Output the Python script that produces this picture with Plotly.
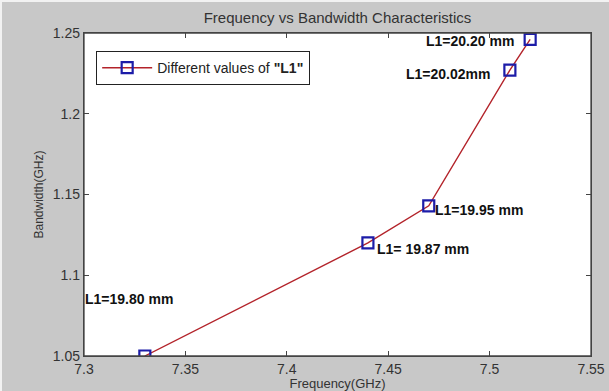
import plotly.graph_objects as go

freq = [7.33, 7.44, 7.47, 7.51, 7.52]
bandwidth = [1.050, 1.120, 1.143, 1.227, 1.246]
labels = ["L1=19.80 mm", "L1= 19.87 mm", "L1=19.95 mm", "L1=20.02mm", "L1=20.20 mm"]
x_ticks = [7.3, 7.35, 7.4, 7.45, 7.5, 7.55]
y_ticks = [1.05, 1.1, 1.15, 1.2, 1.25]

# label placement (style): anchor, xshift, yshift in px
label_style = [
    ("left", -62, 57),
    ("left", 7, -6),
    ("left", 4, -4),
    ("right", -18, -4),
    ("right", -14, -2),
]

FONT = "Liberation Sans, Arial"
W, H = 609, 391
ML, MR, MT, MB = 84, 18, 33, 35
PW, PH = W - ML - MR, H - MT - MB

fig = go.Figure()
fig.add_trace(go.Scatter(
    x=freq, y=bandwidth, mode="lines+markers",
    name='Different values of <b>"L1"</b>',
    line=dict(color="#b3232a", width=1.4),
    marker=dict(symbol="square-open", size=11, color="#1c1ca8", line=dict(width=2.2, color="#1c1ca8")),
))

for xv, yv, t, (anc, xs, ys) in zip(freq, bandwidth, labels, label_style):
    fig.add_annotation(x=xv, y=yv, text="<b>" + t + "</b>", showarrow=False,
                       xanchor=anc, yanchor="middle", xshift=xs, yshift=ys,
                       font=dict(family=FONT, size=14, color="#111"))

# plot frame
fig.add_shape(type="rect", xref="paper", yref="paper", x0=0, y0=0, x1=1, y1=1,
              line=dict(color="#444", width=1.3), layer="above")
# thin light border at top and left of the figure
fig.add_shape(type="line", xref="paper", yref="paper",
              x0=-ML / PW, x1=(PW + MR) / PW, y0=(PH + MT - 1) / PH, y1=(PH + MT - 1) / PH,
              line=dict(color="#f2f2f2", width=2))
fig.add_shape(type="line", xref="paper", yref="paper",
              x0=(-ML + 1) / PW, x1=(-ML + 1) / PW, y0=-MB / PH, y1=(PH + MT) / PH,
              line=dict(color="#f2f2f2", width=2))

axis_common = dict(
    ticks="inside", ticklen=5, tickcolor="#444", showline=True, linecolor="#444",
    linewidth=1.3, mirror="allticks", showgrid=False, zeroline=False, automargin=False,
    tickfont=dict(family=FONT, size=14, color="#333"),
)
fig.update_xaxes(range=[7.3, 7.55], tickvals=x_ticks, ticktext=[f"{v:g}" for v in x_ticks],
                 title=dict(text="Frequency(GHz)", standoff=2,
                            font=dict(family=FONT, size=13, color="#333")),
                 **axis_common)
fig.update_yaxes(range=[1.05, 1.25], tickvals=y_ticks, ticktext=[f"{v:g}" for v in y_ticks],
                 title=dict(text="Bandwidth(GHz)", standoff=6,
                            font=dict(family=FONT, size=12, color="#333")),
                 **axis_common)

fig.update_layout(
    width=W, height=H,
    margin=dict(l=ML, r=MR, t=MT, b=MB, autoexpand=False),
    paper_bgcolor="#c8c8c8", plot_bgcolor="white",
    title=dict(text="Frequency vs Bandwidth Characteristics", x=(84 + 591) / 2 / 609, xanchor="center",
               y=1 - 18 / 391, yanchor="middle",
               font=dict(family=FONT, size=15, color="#333")),
    showlegend=True,
    legend=dict(x=0.024, y=0.944, xanchor="left", yanchor="top", bgcolor="white",
                bordercolor="#222", borderwidth=1, itemwidth=50,
                font=dict(family=FONT, size=14, color="#222")),
)

fig.write_html("out.html")
